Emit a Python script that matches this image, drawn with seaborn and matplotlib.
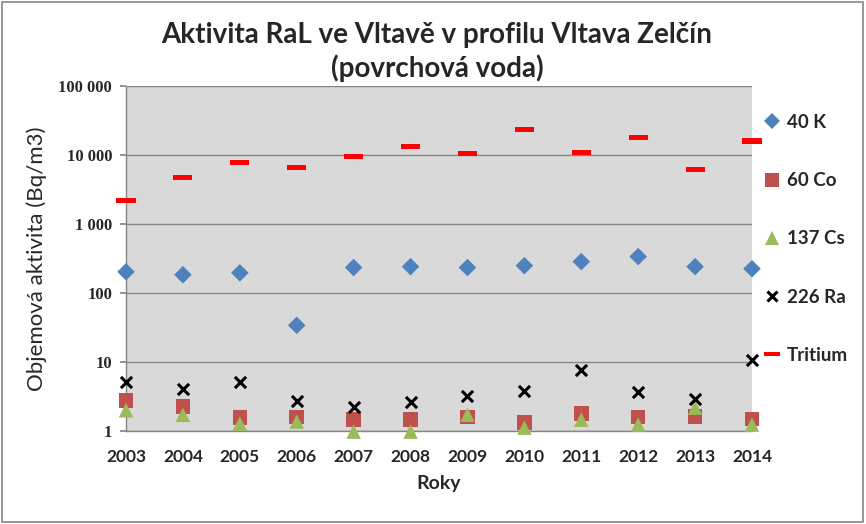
import numpy as np
import pandas as pd
import matplotlib
matplotlib.use("Agg")
import matplotlib.pyplot as plt
import matplotlib.ticker as mticker
from matplotlib.lines import Line2D
from matplotlib.patches import Rectangle
import seaborn as sns

years = [2003, 2004, 2005, 2006, 2007, 2008, 2009, 2010, 2011, 2012, 2013, 2014]
k40 = [203, 184, 196, 34, 234, 241, 234, 249, 285, 337, 241, 225]
co60 = [2.75, 2.25, 1.56, 1.6, 1.46, 1.46, 1.6, 1.32, 1.78, 1.6, 1.63, 1.5]
cs137 = [2.0, 1.72, 1.28, 1.37, 0.98, 0.98, 1.72, 1.12, 1.46, 1.24, 2.18, 1.24]
ra226 = [5.2, 4.1, 5.2, 2.75, 2.25, 2.66, 3.25, 3.84, 7.7, 3.7, 2.94, 10.8]
tritium = [2180, 4700, 7700, 6550, 9500, 13200, 10400, 23200, 10800, 17800, 6100, 16000]
series_names = ["40 K", "60 Co", "137 Cs", "226 Ra", "Tritium"]
yticks = [1, 10, 100, 1000, 10000, 100000]

sns.set_theme(style="white")
plt.rcParams['font.family'] = ['Lato', 'DejaVu Sans']

fig = plt.figure(figsize=(8.66, 5.24), dpi=100)
ax = fig.add_axes([126/866, 1-431/524, (752-126)/866, (431-86)/524])
ax.set_facecolor("#D9D9D9")

dash = [(-4, -1.1), (4, -1.1), (4, 1.1), (-4, 1.1)]
styles = {
    "40 K": dict(marker="D", color="#4F81BD", s=80),
    "60 Co": dict(marker="s", color="#C0504D", s=110),
    "137 Cs": dict(marker="^", color="#9BBB59", s=110),
    "226 Ra": dict(marker="x", color="black", s=65, linewidth=2.2),
    "Tritium": dict(marker=dash, color="#FF0000", s=190),
}
values = {"40 K": k40, "60 Co": co60, "137 Cs": cs137, "226 Ra": ra226, "Tritium": tritium}

for name in series_names:
    df = pd.DataFrame({"year": years, "value": values[name]})
    st = dict(styles[name])
    kw = dict(edgecolor="none") if name != "226 Ra" else {}
    sns.scatterplot(data=df, x="year", y="value", ax=ax, legend=False,
                    clip_on=False, zorder=3, **st, **kw)

ax.set_yscale("log")
ax.set_ylim(1, 100000)
ax.set_xlim(2003, 2014)
ax.set_yticks(yticks)
ax.yaxis.set_major_formatter(mticker.FuncFormatter(lambda v, p: f"{int(round(v)):,}".replace(",", " ")))
ax.yaxis.set_minor_locator(mticker.NullLocator())
ax.set_xticks(years)
ax.set_xticklabels([str(y) for y in years])
ax.grid(axis="y", color="#868686", linewidth=1.0)
ax.set_axisbelow(True)
for sp in ["top", "right"]:
    ax.spines[sp].set_visible(False)
for sp in ["left", "bottom"]:
    ax.spines[sp].set_color("#868686")
    ax.spines[sp].set_linewidth(1.0)
ax.tick_params(axis="y", labelsize=12, pad=6, left=True, length=4, color="#868686")
ax.tick_params(axis="x", labelsize=12.5, pad=7)
for lbl in ax.get_yticklabels():
    lbl.set_fontweight("bold")
    lbl.set_family(["Liberation Serif", "DejaVu Serif"])
for lbl in ax.get_xticklabels():
    lbl.set_fontweight("bold")
ax.set_xlabel("Roky", fontsize=14, fontweight="bold", labelpad=7)
ax.set_ylabel("Objemová aktivita (Bq/m3)", fontsize=16, labelpad=8)

fig.text(437/866, 1-35/524, "Aktivita RaL ve Vltavě v profilu Vltava Zelčín",
         ha="center", va="center", fontsize=20, fontweight="bold")
fig.text(437/866, 1-68/524, "(povrchová voda)",
         ha="center", va="center", fontsize=20, fontweight="bold")

handles = []
for name in series_names:
    st = styles[name]
    if name == "226 Ra":
        h = Line2D([], [], linestyle="none", marker="x", color="black", markersize=7, markeredgewidth=2.2)
    elif name == "Tritium":
        h = Line2D([], [], linestyle="none", marker=dash, color="#FF0000", markersize=11, markeredgewidth=0)
    else:
        ms = {"40 K": 8, "60 Co": 10, "137 Cs": 10}[name]
        h = Line2D([], [], linestyle="none", marker=st["marker"], color=st["color"], markersize=ms, markeredgewidth=0)
    handles.append(h)
leg = fig.legend(handles, series_names, loc="upper left", bbox_to_anchor=(744/866, 1-97/524),
                 frameon=False, labelspacing=2.2, handletextpad=0.2, handlelength=1.2,
                 prop={"size": 13.5, "weight": "bold"})

fig.patches.append(Rectangle((0.002, 0.003), 0.995, 0.994, transform=fig.transFigure,
                             fill=False, edgecolor="#868686", linewidth=1.2))

fig.savefig("out.png", dpi=100)
